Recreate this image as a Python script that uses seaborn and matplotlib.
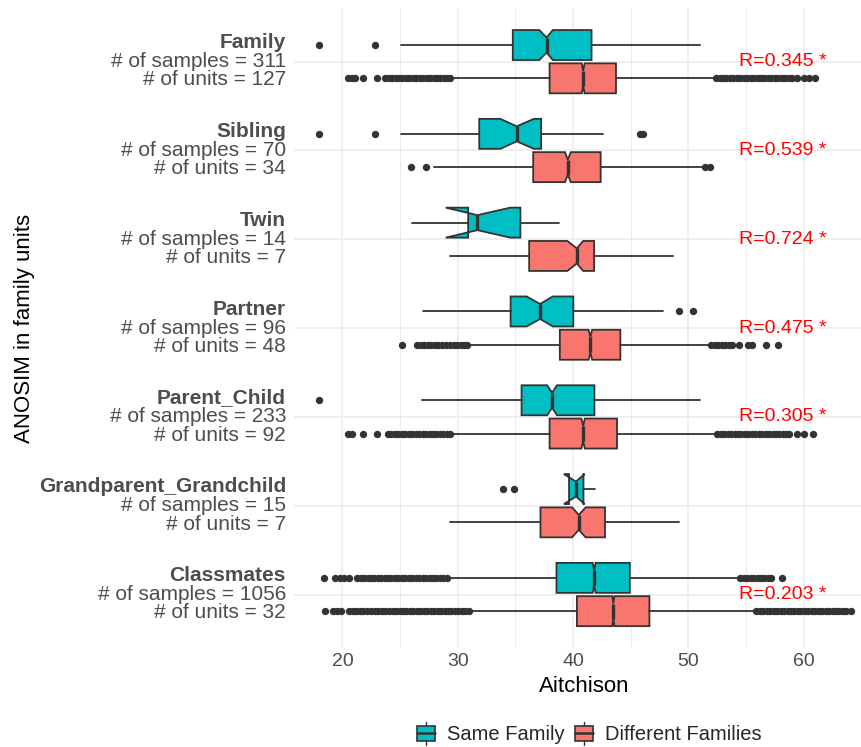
import matplotlib
matplotlib.use("Agg")
import matplotlib.pyplot as plt
import matplotlib.transforms as mtransforms
from matplotlib.legend_handler import HandlerBase
from matplotlib.patches import Rectangle, Patch
from matplotlib.lines import Line2D
import seaborn as sns

# ---- data ----
categories = ["Family", "Sibling", "Twin", "Partner", "Parent_Child",
              "Grandparent_Grandchild", "Classmates"]
n_samples = [311, 70, 14, 96, 233, 15, 1056]
n_units = [127, 34, 7, 48, 92, 7, 32]
r_labels = ["R=0.345 *", "R=0.539 *", "R=0.724 *", "R=0.475 *", "R=0.305 *", "", "R=0.203 *"]
groups = ["Same Family", "Different Families"]

# Same Family boxes
same_whislo = [25.06, 25.06, 26.0, 27.02, 26.9, 39.65, 29.2]
same_q1 = [34.77, 31.86, 30.9, 34.58, 35.53, 39.65, 38.56]
same_cilo = [37.07, 33.69, 28.95, 35.97, 37.75, 39.2, 41.7]
same_med = [37.7, 35.11, 31.7, 37.14, 38.18, 40.25, 41.82]
same_cihi = [38.24, 36.6, 34.55, 38.24, 38.6, 41.0, 41.95]
same_q3 = [41.6, 37.23, 35.43, 40.02, 41.85, 40.9, 44.92]
same_whishi = [51.05, 42.6, 38.75, 47.83, 51.05, 41.9, 54.3]
same_fliers = [
    [18.0, 22.85],
    [18.0, 22.85, 45.77, 46.09],
    [],
    [49.15, 50.36],
    [18.0],
    [33.9, 34.9],
    [18.4, 19.35, 19.8, 20.15, 20.6, 21.3, 21.6, 21.9, 22.2, 22.45, 22.75,
     23.05, 23.35, 23.65, 23.95, 24.25, 24.55, 24.85, 25.15, 25.45, 25.75,
     26.05, 26.35, 26.65, 26.95, 27.25, 27.55, 27.85, 28.15, 28.45, 28.75,
     29.05, 54.5, 54.8, 55.1, 55.4, 55.7, 56.0, 56.3, 56.6, 56.9, 57.15, 58.15],
]

# Different Families boxes
diff_whislo = [29.49, 27.9, 29.33, 30.9, 29.5, 29.33, 31.2]
diff_q1 = [37.96, 36.54, 36.19, 38.85, 37.96, 37.17, 40.33]
diff_cilo = [40.75, 39.3, 39.5, 41.35, 40.72, 39.92, 43.4]
diff_med = [40.87, 39.54, 40.33, 41.5, 40.87, 40.49, 43.49]
diff_cihi = [41.0, 39.8, 40.87, 41.65, 41.02, 41.09, 43.58]
diff_q3 = [43.72, 42.39, 41.82, 44.1, 43.81, 42.77, 46.62]
diff_whishi = [52.1, 51.15, 48.68, 51.7, 52.35, 49.19, 55.73]
diff_fliers = [
    [20.5, 20.8, 21.05, 21.75, 22.95, 23.7, 24.0, 24.3, 24.6, 24.9, 25.2,
     25.5, 25.8, 26.1, 26.4, 26.7, 27.0, 27.3, 27.6, 27.9, 28.2, 28.5, 28.8,
     29.1, 29.35, 52.4, 52.7, 53.0, 53.3, 53.6, 53.9, 54.2, 54.5, 54.8, 55.1,
     55.4, 55.7, 56.0, 56.3, 56.6, 56.9, 57.2, 57.5, 57.8, 58.1, 58.4, 58.7,
     59.0, 59.4, 60.0, 60.5, 60.95],
    [25.94, 27.27, 51.4, 51.84],
    [],
    [25.15, 26.5, 26.8, 27.1, 27.4, 27.7, 28.0, 28.3, 28.6, 28.95, 29.35,
     29.65, 29.95, 30.25, 30.55, 30.8, 52.0, 52.3, 52.6, 52.9, 53.2, 53.5,
     53.8, 54.4, 55.2, 55.55, 56.7, 57.8],
    [20.5, 20.85, 21.75, 22.95, 23.95, 24.25, 24.55, 24.85, 25.15, 25.45,
     25.75, 26.05, 26.35, 26.65, 26.95, 27.25, 27.55, 27.85, 28.15, 28.45,
     28.75, 29.05, 29.3, 52.5, 52.8, 53.1, 53.4, 53.7, 54.0, 54.3, 54.6, 54.9,
     55.2, 55.5, 55.8, 56.1, 56.4, 56.7, 57.0, 57.3, 57.6, 57.9, 58.2, 58.5,
     58.75, 59.4, 60.0, 60.8],
    [],
    [18.5, 19.2, 19.5, 19.9, 20.6, 20.9, 21.2, 21.5, 21.8, 22.1, 22.5, 22.8,
     23.1, 23.4, 23.7, 24.05, 24.35, 24.65, 24.95, 25.25, 25.55, 25.85, 26.15,
     26.45, 26.75, 27.05, 27.35, 27.65, 27.95, 28.25, 28.55, 28.85, 29.15,
     29.45, 29.75, 30.05, 30.35, 30.65, 30.95, 55.9, 56.2, 56.5, 56.8, 57.1,
     57.4, 57.7, 58.0, 58.3, 58.6, 58.9, 59.2, 59.5, 59.8, 60.1, 60.4, 60.7,
     61.0, 61.3, 61.6, 61.9, 62.2, 62.5, 62.8, 63.1, 63.4, 63.7, 64.1],
]

TEAL = "#00BFC4"
SALMON = "#F8766D"
EDGE = "#333333"
GREY30 = "#4D4D4D"
GRID = "#EBEBEB"


def make_stats(whislo, q1, cilo, med, cihi, q3, whishi, fliers):
    out = []
    for i in range(len(med)):
        out.append(dict(whislo=whislo[i], q1=q1[i], cilo=cilo[i], med=med[i],
                        cihi=cihi[i], q3=q3[i], whishi=whishi[i],
                        fliers=fliers[i]))
    return out


class BoxKey(HandlerBase):
    # ggplot-like boxplot legend key
    def create_artists(self, legend, orig_handle, xdescent, ydescent,
                       width, height, fontsize, trans):
        x0, y0 = -xdescent, -ydescent
        cx = x0 + width / 2
        whisk = Line2D([cx, cx], [y0 - 0.25 * height, y0 + 1.25 * height],
                       color=EDGE, lw=1.0, transform=trans)
        box = Rectangle((x0, y0), width, height, facecolor=orig_handle.get_facecolor(),
                        edgecolor=EDGE, lw=1.2, transform=trans)
        med = Line2D([x0, x0 + width], [y0 + height / 2] * 2, color=EDGE,
                     lw=1.8, transform=trans)
        return [whisk, box, med]


sns.set_theme(style="whitegrid")
plt.rcParams["font.family"] = ["Liberation Sans", "DejaVu Sans"]

W, H = 861, 747
fig = plt.figure(figsize=(W / 100, H / 100), dpi=100)
ax = fig.add_axes([293.6 / W, 1 - 647.8 / H, (W - 293.6) / W, (647.8 - 8.4) / H])

pos = list(range(len(categories)))
offset = 0.1875
bw = 0.3375
line_kw = dict(color=EDGE, linewidth=1.3)
for stats, shift, color in [
    (make_stats(same_whislo, same_q1, same_cilo, same_med, same_cihi, same_q3,
                same_whishi, same_fliers), -offset, TEAL),
    (make_stats(diff_whislo, diff_q1, diff_cilo, diff_med, diff_cihi, diff_q3,
                diff_whishi, diff_fliers), offset, SALMON),
]:
    ax.bxp(stats, positions=[p + shift for p in pos], widths=bw,
           orientation="horizontal", patch_artist=True, shownotches=True,
           showcaps=False, manage_ticks=False,
           boxprops=dict(facecolor=color, edgecolor=EDGE, linewidth=1.3),
           whiskerprops=line_kw,
           medianprops=dict(color=EDGE, linewidth=2.4),
           flierprops=dict(marker="o", markersize=5.3, markerfacecolor=EDGE,
                           markeredgecolor="none", linestyle="none"))

ax.set_xlim(15.76, 64.97)
ax.set_ylim(len(categories) - 0.4, -0.6)
ax.set_xticks([20, 30, 40, 50, 60])
ax.set_xticks([25, 35, 45, 55], minor=True)
ax.set_yticks(pos)
ax.set_yticklabels([])
ax.tick_params(axis="x", which="both", length=0, pad=4, labelsize=14, labelcolor=GREY30)
ax.tick_params(axis="y", length=0)
ax.grid(which="major", color=GRID, linewidth=1.1)
ax.grid(which="minor", axis="x", color=GRID, linewidth=0.7)
ax.set_axisbelow(True)
for s in ax.spines.values():
    s.set_visible(False)
ax.set_facecolor("white")

# multi-line y labels: bold name + counts
trans = mtransforms.blended_transform_factory(ax.transAxes, ax.transData)
xlab = (286 - 293.6) / (W - 293.6)
for i, name in enumerate(categories):
    ax.text(xlab, i - 0.214, name, ha="right", va="center", fontsize=15,
            fontweight="bold", color=GREY30, transform=trans, clip_on=False)
    ax.text(xlab, i, f"# of samples = {n_samples[i]}", ha="right", va="center",
            fontsize=15, color=GREY30, transform=trans, clip_on=False)
    ax.text(xlab, i + 0.206, f"# of units = {n_units[i]}", ha="right", va="center",
            fontsize=15, color=GREY30, transform=trans, clip_on=False)
    if r_labels[i]:
        ax.text(58.2, i, r_labels[i], ha="center", va="center", fontsize=14,
                color="red")

fig.text(25 / W, 1 - 328 / H, "ANOSIM in family units", rotation=90,
         ha="center", va="center", fontsize=16, color="black")
fig.text(584 / W, 1 - 687 / H, "Aitchison", ha="center", va="center",
         fontsize=16, color="black")

fig.legend(handles=[Patch(facecolor=TEAL), Patch(facecolor=SALMON)],
           labels=groups, handler_map={Patch: BoxKey()}, loc="center",
           bbox_to_anchor=(589 / W, 1 - 735 / H), ncol=2, frameon=False,
           fontsize=14.5, handlelength=0.9, handleheight=0.75,
           handletextpad=0.6, columnspacing=0.5)

fig.savefig("out.png", dpi=100, facecolor="white")
